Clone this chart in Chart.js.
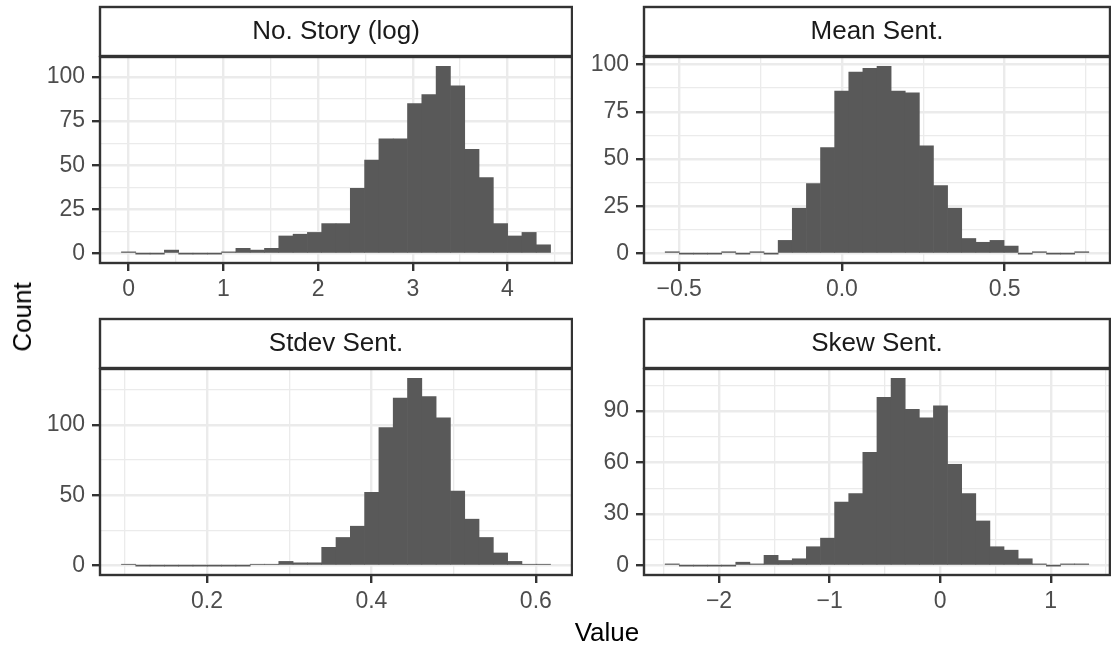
<!DOCTYPE html>
<html>
<head>
<meta charset="utf-8">
<script src="https://cdn.jsdelivr.net/npm/chart.js@4.4.1/dist/chart.umd.min.js"></script>
<style>
  html, body { margin: 0; padding: 0; background: #ffffff; }
  #wrap { position: relative; width: 1111px; height: 648px; overflow: hidden;
          font-family: "Liberation Sans", Arial, Helvetica, sans-serif; }
  #wrap canvas { position: absolute; }
  .axis-title { position: absolute; color: #000000; font-size: 26px; line-height: 1;
                white-space: nowrap; transform: translate(-50%, -50%); }
  #ytitle { transform: translate(-50%, -50%) rotate(-90deg); }
</style>
</head>
<body>
<div id="wrap">
  <canvas id="storyChart"></canvas>
  <canvas id="meanChart"></canvas>
  <canvas id="stdevChart"></canvas>
  <canvas id="skewChart"></canvas>
  <div class="axis-title" id="ytitle" style="left:22px; top:317px;">Count</div>
  <div class="axis-title" id="xtitle" style="left:607px; top:632px;">Value</div>
</div>
<script>
// ---- Histogram data: bin centres and counts per measure ----
const storyBins = [0.000, 0.151, 0.302, 0.453, 0.604, 0.755, 0.906, 1.057, 1.208, 1.359,
                   1.510, 1.661, 1.812, 1.963, 2.114, 2.265, 2.416, 2.567, 2.718, 2.869,
                   3.020, 3.171, 3.322, 3.473, 3.624, 3.775, 3.926, 4.077, 4.228, 4.379];
const storyCounts = [1, 0, 0, 2, 0, 0, 0, 1, 3, 2, 3, 10, 11, 12, 17, 17, 37, 53, 65, 65,
                     85, 90, 106, 95, 59, 43, 17, 10, 12, 5];

const meanBins = [-0.5212, -0.4778, -0.4344, -0.3911, -0.3477, -0.3043, -0.2609, -0.2175, -0.1742, -0.1308,
                  -0.0874, -0.0440, -0.0006, 0.0428, 0.0861, 0.1295, 0.1729, 0.2163, 0.2596, 0.3030,
                  0.3464, 0.3898, 0.4332, 0.4765, 0.5199, 0.5633, 0.6067, 0.6501, 0.6934, 0.7368];
const meanCounts = [1, 0, 0, 0, 1, 0, 1, 0, 7, 24, 37, 56, 86, 96, 98, 99, 86, 85, 57, 36,
                    24, 8, 6, 7, 4, 0, 1, 0, 0, 1];

const stdevBins = [0.1046, 0.1220, 0.1394, 0.1568, 0.1742, 0.1916, 0.2090, 0.2264, 0.2438, 0.2612,
                   0.2786, 0.2960, 0.3134, 0.3308, 0.3482, 0.3656, 0.3830, 0.4004, 0.4178, 0.4352,
                   0.4526, 0.4700, 0.4874, 0.5048, 0.5222, 0.5396, 0.5570, 0.5744, 0.5918, 0.6092];
const stdevCounts = [1, 0, 0, 0, 0, 0, 0, 0, 0, 1, 1, 3, 2, 2, 13, 20, 28, 52, 98, 119,
                     133, 120, 105, 53, 33, 20, 9, 3, 1, 1];

const skewBins = [-2.4232, -2.2955, -2.1678, -2.0401, -1.9124, -1.7847, -1.6570, -1.5293, -1.4016, -1.2739,
                  -1.1462, -1.0185, -0.8908, -0.7631, -0.6354, -0.5077, -0.3800, -0.2523, -0.1246, 0.0031,
                  0.1308, 0.2585, 0.3862, 0.5139, 0.6416, 0.7693, 0.8970, 1.0247, 1.1524, 1.2801];
const skewCounts = [1, 0, 0, 0, 0, 2, 1, 6, 3, 4, 11, 16, 37, 42, 66, 98, 109, 91, 86, 93,
                    59, 42, 26, 11, 9, 4, 1, 0, 1, 1];

// ---- Axis breaks and labels ----
const storyXMajor = [0, 1, 2, 3, 4];
const storyXLabels = ['0', '1', '2', '3', '4'];
const storyXMinor = [0.5, 1.5, 2.5, 3.5, 4.5];
const countYMajor = [0, 25, 50, 75, 100];
const countYLabels = ['0', '25', '50', '75', '100'];
const countYMinor = [12.5, 37.5, 62.5, 87.5];

const meanXMajor = [-0.5, 0, 0.5];
const meanXLabels = ['\u22120.5', '0.0', '0.5'];
const meanXMinor = [-0.25, 0.25, 0.75];

const stdevXMajor = [0.2, 0.4, 0.6];
const stdevXLabels = ['0.2', '0.4', '0.6'];
const stdevXMinor = [0.1, 0.3, 0.5];
const stdevYMajor = [0, 50, 100];
const stdevYLabels = ['0', '50', '100'];
const stdevYMinor = [25, 75, 125];

const skewXMajor = [-2, -1, 0, 1];
const skewXLabels = ['\u22122', '\u22121', '0', '1'];
const skewXMinor = [-2.5, -1.5, -0.5, 0.5, 1.5];
const skewYMajor = [0, 30, 60, 90];
const skewYLabels = ['0', '30', '60', '90'];
const skewYMinor = [15, 45, 75, 105];

const facetTitles = ['No. Story (log)', 'Mean Sent.', 'Stdev Sent.', 'Skew Sent.'];

// ---- Styling ----
const FONT = '"Liberation Sans", Arial, Helvetica, sans-serif';
const BAR_FILL = '#595959';
const GRID = '#EBEBEB';
const INK = '#333333';
const STRIP_H = 50;
const TOP_GAP = 4;
const Y_AXIS_W = 100;
const X_AXIS_H = 48;

// Strip above the panel plus the panel border, drawn on top of the plot
const facetFrame = {
  id: 'facetFrame',
  afterDraw(chart, args, opts) {
    const { ctx, chartArea: a } = chart;
    ctx.save();
    ctx.lineWidth = 2.4;
    ctx.strokeStyle = INK;
    const sTop = a.top - STRIP_H;
    ctx.fillStyle = '#ffffff';
    ctx.fillRect(a.left, sTop, a.right - a.left, STRIP_H - 1);
    ctx.strokeRect(a.left, sTop, a.right - a.left, STRIP_H - 1);
    ctx.fillStyle = '#1A1A1A';
    ctx.font = '26px ' + FONT;
    ctx.textAlign = 'center';
    ctx.textBaseline = 'middle';
    ctx.fillText(opts.label, (a.left + a.right) / 2, sTop + STRIP_H / 2);
    ctx.strokeRect(a.left, a.top, a.right - a.left, a.bottom - a.top);
    ctx.restore();
  }
};

function axis(major, labels, minor, min, max, isX) {
  const all = major.concat(minor).sort((p, q) => p - q);
  const isMajor = (t) => !t || major.indexOf(t.value) !== -1;
  return {
    type: 'linear',
    min: min,
    max: max,
    offset: false,
    afterBuildTicks: (scale) => { scale.ticks = all.map(v => ({ value: v })); },
    afterFit: (scale) => {
      if (isX) { scale.height = X_AXIS_H; } else { scale.width = Y_AXIS_W; }
    },
    border: { display: false },
    grid: {
      offset: false,
      drawOnChartArea: true,
      drawTicks: true,
      tickLength: 8,
      color: (c) => GRID,
      lineWidth: (c) => isMajor(c.tick) ? 2.4 : 1.3,
      tickColor: (c) => isMajor(c.tick) ? INK : 'rgba(0,0,0,0)',
      tickWidth: (c) => isMajor(c.tick) ? 2.4 : 0
    },
    ticks: {
      autoSkip: false,
      maxRotation: 0,
      minRotation: 0,
      padding: isX ? 5 : 7,
      color: '#4D4D4D',
      font: { family: FONT, size: 23, lineHeight: 1.2 },
      callback: (v) => {
        const i = major.indexOf(v);
        return i === -1 ? '' : labels[i];
      }
    }
  };
}

function histogram(canvasId, title, bins, counts, xMajor, xLabels, xMinor, yMajor, yLabels, yMinor, box) {
  // ggplot-style 5% expansion around the binned range and around 0..max count
  const w = bins[1] - bins[0];
  const lo = bins[0] - w / 2, hi = bins[bins.length - 1] + w / 2;
  const padX = (hi - lo) * 0.05;
  const top = Math.max.apply(null, counts);
  const el = document.getElementById(canvasId);
  const cw = Y_AXIS_W + box.width + 1;
  const ch = TOP_GAP + STRIP_H + box.height + X_AXIS_H;
  el.width = cw; el.height = ch;
  el.style.left = (box.left - Y_AXIS_W) + 'px';
  el.style.top = (box.top - STRIP_H - TOP_GAP) + 'px';
  el.style.width = cw + 'px'; el.style.height = ch + 'px';
  return new Chart(el, {
    type: 'bar',
    data: {
      datasets: [{
        data: bins.map((b, i) => ({ x: b, y: counts[i] })),
        backgroundColor: BAR_FILL,
        borderWidth: 0,
        barPercentage: 1,
        categoryPercentage: 1,
        minBarLength: 1
      }]
    },
    options: {
      responsive: false,
      animation: false,
      devicePixelRatio: 1,
      layout: { padding: { left: 0, right: 1, top: TOP_GAP + STRIP_H, bottom: 0 } },
      plugins: {
        legend: { display: false },
        tooltip: { enabled: false },
        facetFrame: { label: title }
      },
      scales: {
        x: axis(xMajor, xLabels, xMinor, lo - padX, hi + padX, true),
        y: axis(yMajor, yLabels, yMinor, -0.05 * top, 1.05 * top, false)
      }
    },
    plugins: [facetFrame]
  });
}

const leftCol = { left: 100, width: 472 };
const rightCol = { left: 644, width: 466 };
const topRow = { top: 57, height: 206 };
const bottomRow = { top: 369, height: 206 };

histogram('storyChart', facetTitles[0], storyBins, storyCounts,
  storyXMajor, storyXLabels, storyXMinor, countYMajor, countYLabels, countYMinor,
  { left: leftCol.left, width: leftCol.width, top: topRow.top, height: topRow.height });
histogram('meanChart', facetTitles[1], meanBins, meanCounts,
  meanXMajor, meanXLabels, meanXMinor, countYMajor, countYLabels, countYMinor,
  { left: rightCol.left, width: rightCol.width, top: topRow.top, height: topRow.height });
histogram('stdevChart', facetTitles[2], stdevBins, stdevCounts,
  stdevXMajor, stdevXLabels, stdevXMinor, stdevYMajor, stdevYLabels, stdevYMinor,
  { left: leftCol.left, width: leftCol.width, top: bottomRow.top, height: bottomRow.height });
histogram('skewChart', facetTitles[3], skewBins, skewCounts,
  skewXMajor, skewXLabels, skewXMinor, skewYMajor, skewYLabels, skewYMinor,
  { left: rightCol.left, width: rightCol.width, top: bottomRow.top, height: bottomRow.height });
</script>
</body>
</html>
